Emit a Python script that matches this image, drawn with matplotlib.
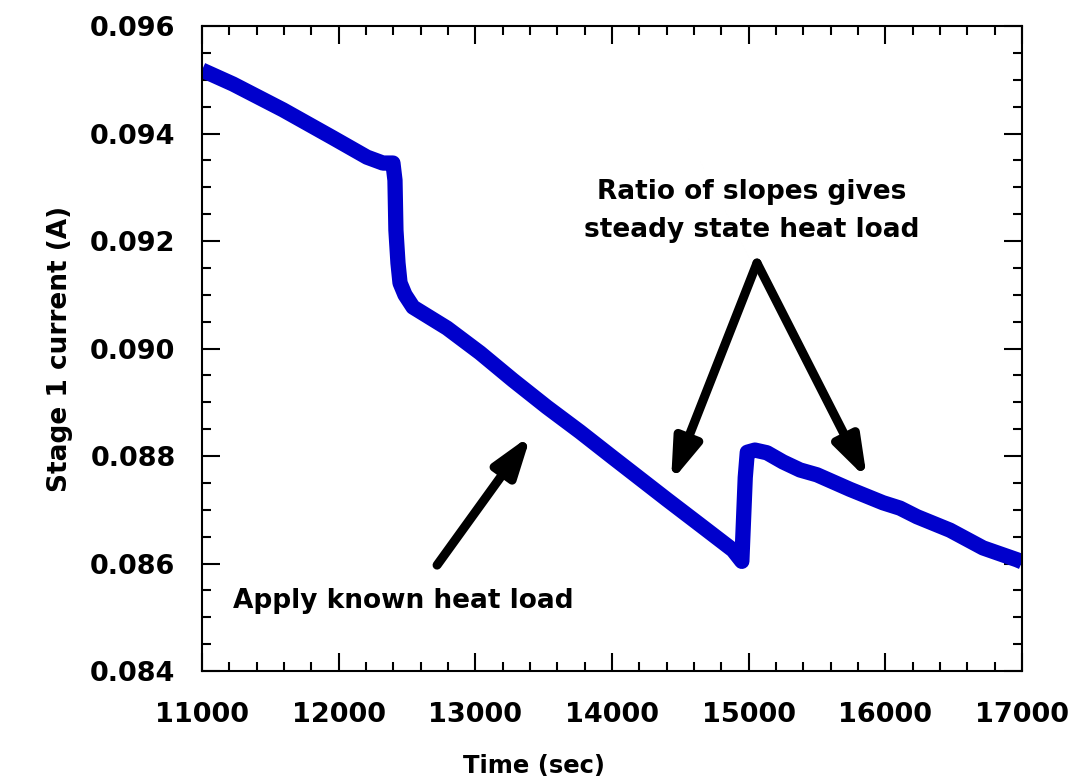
import matplotlib
matplotlib.use("Agg")
import matplotlib.pyplot as plt
from matplotlib.ticker import MultipleLocator, FormatStrFormatter

# values
time_s = [11000, 11227, 11593, 11958, 12207, 12324, 12397, 12412, 12419, 12434,
          12449, 12485, 12544, 12793, 13034, 13276, 13524, 13766, 14007, 14154,
          14402, 14644, 14885, 14950, 14975, 14990, 15046, 15134, 15251, 15376,
          15500, 15741, 15983, 16107, 16232, 16473, 16715, 16963, 17000]
current_a = [0.09518, 0.09492, 0.09444, 0.09392, 0.09356, 0.09345, 0.09345, 0.09313,
             0.09220, 0.09159, 0.09122, 0.09100, 0.09077, 0.09038, 0.08992, 0.08941,
             0.08891, 0.08845, 0.08797, 0.08768, 0.08719, 0.08672, 0.08625, 0.08604,
             0.08760, 0.08807, 0.08811, 0.08806, 0.08789, 0.08774, 0.08765, 0.08738,
             0.08713, 0.08703, 0.08687, 0.08662, 0.08629, 0.08607, 0.08603]

x_ticks = [11000, 12000, 13000, 14000, 15000, 16000, 17000]
y_ticks = [0.084, 0.086, 0.088, 0.090, 0.092, 0.094, 0.096]

plt.rcParams["font.family"] = ["DejaVu Sans"]
plt.rcParams["font.weight"] = "bold"

fig = plt.figure(figsize=(10.76, 7.81), dpi=100)
ax = fig.add_axes([202 / 1076, 1 - 671 / 781, 820 / 1076, 645 / 781])

ax.plot(time_s, current_a, color="#0000cc", lw=11, solid_joinstyle="round",
        solid_capstyle="butt")

ax.set_xlim(11000, 17000)
ax.set_ylim(0.084, 0.096)
ax.set_xticks(x_ticks)
ax.set_yticks(y_ticks)
ax.xaxis.set_minor_locator(MultipleLocator(200))
ax.yaxis.set_minor_locator(MultipleLocator(0.0005))
ax.yaxis.set_major_formatter(FormatStrFormatter("%.3f"))

ax.tick_params(which="both", direction="in", top=True, right=True, width=1.5,
               color="black")
ax.tick_params(which="major", length=13)
ax.tick_params(which="minor", length=6.5)
ax.tick_params(axis="x", which="major", labelsize=19.5, pad=22)
ax.tick_params(axis="y", which="major", labelsize=19.5, pad=19)
for lab in ax.get_xticklabels() + ax.get_yticklabels():
    lab.set_fontweight("bold")
for sp in ax.spines.values():
    sp.set_linewidth(1.5)

ax.set_xlabel("Time (sec)", fontsize=17.5, fontweight="bold")
ax.xaxis.set_label_coords(0.405, -0.128)
ax.set_ylabel("Stage 1 current (A)", fontsize=19, fontweight="bold", labelpad=12)

arrow = dict(arrowstyle="-|>,head_length=2.4,head_width=0.8", color="black",
             lw=6.5, shrinkA=0, shrinkB=0)
ax.annotate("", xy=(13407, 0.08839), xytext=(12720, 0.08597), arrowprops=arrow)
ax.annotate("", xy=(14432, 0.08752), xytext=(15061, 0.09159), arrowprops=arrow)
ax.annotate("", xy=(15866, 0.08757), xytext=(15061, 0.09159), arrowprops=arrow)

ax.text(15020, 0.09291, "Ratio of slopes gives", ha="center", va="center",
        fontsize=19, fontweight="bold")
ax.text(15020, 0.09220, "steady state heat load", ha="center", va="center",
        fontsize=19, fontweight="bold")
ax.text(11227, 0.08530, "Apply known heat load", ha="left", va="center",
        fontsize=19, fontweight="bold")

fig.savefig("out.png", dpi=100)
